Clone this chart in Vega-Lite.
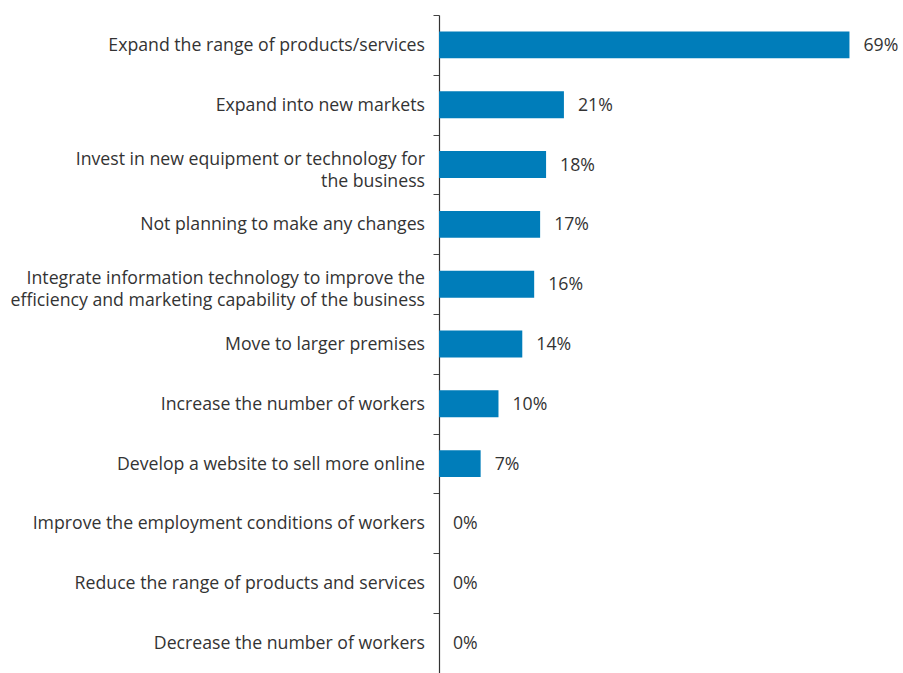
{
  "$schema": "https://vega.github.io/schema/vega-lite/v6.json",
  "width": 464,
  "height": 658,
  "autosize": {"type": "none"},
  "padding": {"left": 439, "top": 15, "right": 0, "bottom": 0},
  "background": "white",
  "config": {"view": {"stroke": null}, "font": "Open Sans"},
  "data": {"values": [
    {"cat": "Expand the range of products/services", "pct": 69},
    {"cat": "Expand into new markets", "pct": 21},
    {"cat": "Invest in new equipment or technology for|the business", "pct": 18},
    {"cat": "Not planning to make any changes", "pct": 17},
    {"cat": "Integrate information technology to improve the|efficiency and marketing capability of the business", "pct": 16},
    {"cat": "Move to larger premises", "pct": 14},
    {"cat": "Increase the number of workers", "pct": 10},
    {"cat": "Develop a website to sell more online", "pct": 7},
    {"cat": "Improve the employment conditions of workers", "pct": 0},
    {"cat": "Reduce the range of products and services", "pct": 0},
    {"cat": "Decrease the number of workers", "pct": 0}
  ]},
  "transform": [
    {"calculate": "datum.pct + '%'", "as": "label"},
    {"calculate": "split(datum.cat, '|')", "as": "lines"}
  ],
  "encoding": {
    "y": {
      "field": "cat", "type": "nominal", "sort": null,
      "scale": {"paddingInner": 0.55, "paddingOuter": 0.275},
      "axis": {
        "title": null,
        "labels": false,
        "tickOffset": -30,
        "tickSize": 6,
        "tickColor": "#444444",
        "domainColor": "#333333",
        "domainWidth": 1.2,
        "grid": false
      }
    },
    "x": {
      "field": "pct", "type": "quantitative",
      "scale": {"domain": [0, 78]},
      "axis": null
    }
  },
  "layer": [
    {"mark": {"type": "bar", "color": "#007dba"}},
    {"mark": {"type": "text", "align": "left", "dx": 14, "dy": 1, "fontSize": 17.7, "color": "#333333"},
     "encoding": {"text": {"field": "label"}}},
    {"transform": [{"filter": "indexof(datum.cat, '|') < 0"}],
     "mark": {"type": "text", "align": "right", "baseline": "middle", "dx": -14, "dy": 1, "fontSize": 17.7, "color": "#333333"},
     "encoding": {"x": {"datum": 0}, "text": {"field": "lines"}}},
    {"transform": [{"filter": "indexof(datum.cat, '|') >= 0"}],
     "mark": {"type": "text", "align": "right", "baseline": "middle", "dx": -14, "dy": -5, "lineHeight": 22, "fontSize": 17.7, "color": "#333333"},
     "encoding": {"x": {"datum": 0}, "text": {"field": "lines"}}}
  ]
}
